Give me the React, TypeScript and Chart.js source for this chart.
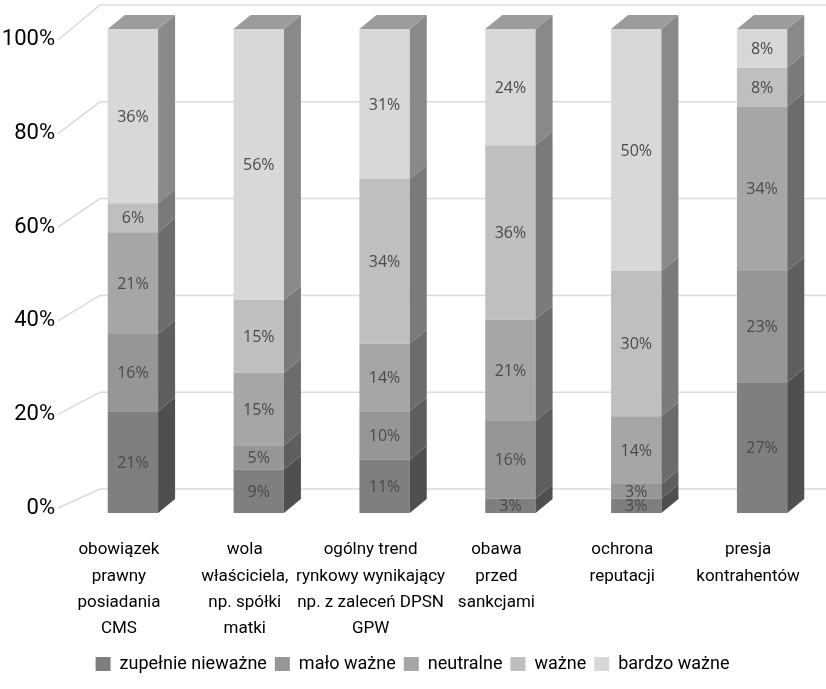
import React, { useEffect, useRef } from "react";
import { Chart, registerables } from "chart.js";

Chart.register(...registerables);

const categories: string[][] = [
  ["obowiązek", "prawny", "posiadania", "CMS"],
  ["wola", "właściciela,", "np. spółki", "matki"],
  ["ogólny trend", "rynkowy wynikający", "np. z zaleceń DPSN", "GPW"],
  ["obawa", "przed", "sankcjami"],
  ["ochrona", "reputacji"],
  ["presja", "kontrahentów"],
];

const seriesNames = ["zupełnie nieważne", "mało ważne", "neutralne", "ważne", "bardzo ważne"];
const zupelnieNiewazne = [21, 9, 11, 3, 3, 27];
const maloWazne = [16, 5, 10, 16, 3, 23];
const neutralne = [21, 15, 14, 21, 14, 34];
const wazne = [6, 15, 34, 36, 30, 8];
const bardzoWazne = [36, 56, 31, 24, 50, 8];
const seriesValues = [zupelnieNiewazne, maloWazne, neutralne, wazne, bardzoWazne];

const yTicks = [0, 20, 40, 60, 80, 100];

const frontColors = ["#7f7f7f", "#969696", "#a6a6a6", "#bfbfbf", "#d8d8d8"];
const sideColors = ["#4f4f4f", "#5e5e5e", "#6c6c6c", "#7a7a7a", "#898989"];
const topColor = "#9c9c9c";

const FONT = "Roboto, 'DejaVu Sans Condensed', sans-serif";
const DEPTH_X = 17;
const DEPTH_Y = 14;
const WALL_Y = 24;
const PAD_BOTTOM = 6;

const threeD = {
  id: "threeD",
  beforeDatasetsDraw(chart: any) {
    const { ctx, chartArea } = chart;
    const y = chart.scales.y;
    const yl = chart.scales.yl;
    const backLeft = chartArea.left + 30;
    const frontLeft = chartArea.left - 12;
    ctx.save();
    ctx.strokeStyle = "#dadada";
    ctx.lineWidth = 1.5;
    for (const v of yTicks) {
      const by = y.getPixelForValue(v) - WALL_Y;
      const fy = yl.getPixelForValue(v);
      ctx.beginPath();
      ctx.moveTo(frontLeft, fy);
      ctx.lineTo(backLeft, by);
      ctx.lineTo(chart.width, by);
      ctx.stroke();
    }
    ctx.restore();
  },
  afterDatasetsDraw(chart: any) {
    const { ctx } = chart;
    const n = chart.data.datasets.length;
    ctx.save();
    for (let d = 0; d < n; d++) {
      const meta = chart.getDatasetMeta(d);
      meta.data.forEach((bar: any) => {
        const { x, y, base, width } = bar.getProps(["x", "y", "base", "width"], true);
        const right = x + width / 2;
        const left = x - width / 2;
        ctx.fillStyle = sideColors[d];
        ctx.beginPath();
        ctx.moveTo(right, y);
        ctx.lineTo(right + DEPTH_X, y - DEPTH_Y);
        ctx.lineTo(right + DEPTH_X, base - DEPTH_Y);
        ctx.lineTo(right, base);
        ctx.closePath();
        ctx.fill();
        if (d === n - 1) {
          ctx.fillStyle = topColor;
          ctx.beginPath();
          ctx.moveTo(left, y);
          ctx.lineTo(left + DEPTH_X, y - DEPTH_Y);
          ctx.lineTo(right + DEPTH_X, y - DEPTH_Y);
          ctx.lineTo(right, y);
          ctx.closePath();
          ctx.fill();
        }
      });
    }
    // data labels
    ctx.fillStyle = "#4a4a4a";
    ctx.font = "16px 'Open Sans', sans-serif";
    ctx.textAlign = "center";
    ctx.textBaseline = "middle";
    for (let d = 0; d < n; d++) {
      const meta = chart.getDatasetMeta(d);
      const vals = chart.data.datasets[d].data;
      meta.data.forEach((bar: any, i: number) => {
        const { x, y, base } = bar.getProps(["x", "y", "base"], true);
        ctx.fillText(vals[i] + "%", x, (y + base) / 2 + 1);
      });
    }
    ctx.restore();
  },
};

export default function App() {
  const ref = useRef<HTMLCanvasElement>(null);
  useEffect(() => {
    if (!ref.current) return;
    const chart = new Chart(ref.current, {
      type: "bar",
      data: {
        labels: categories as any,
        datasets: seriesNames.map((name, i) => ({
          label: name,
          data: seriesValues[i],
          backgroundColor: frontColors[i],
          borderWidth: 0,
          barPercentage: 0.8,
          categoryPercentage: 0.5,
        })),
      },
      options: {
        responsive: false,
        animation: false,
        layout: { padding: { top: 29, right: 1, left: 0, bottom: PAD_BOTTOM } },
        plugins: {
          tooltip: { enabled: false },
          legend: {
            position: "bottom",
            labels: {
              boxWidth: 15,
              boxHeight: 14,
              padding: 8,
              color: "#000",
              font: { family: FONT, size: 18 },
            },
          },
        },
        scales: {
          x: {
            stacked: true,
            grid: { display: false },
            border: { display: false },
            ticks: {
              color: "#000",
              font: { family: FONT, size: 17, lineHeight: 1.55 },
              padding: 16,
              labelOffset: -14,
              maxRotation: 0,
              autoSkip: false,
            },
            afterFit(scale: any) {
              const lh = scale.chart.legend ? scale.chart.legend.height : 40;
              scale.height = 689 - 513 - lh - PAD_BOTTOM;
              scale.paddingLeft = 0;
              scale.paddingRight = 0;
            },
          },
          y: {
            stacked: true,
            min: 0,
            max: 100,
            display: false,
          },
          yl: {
            position: "left",
            min: -1.068,
            max: 102.35,
            grid: { display: false },
            border: { display: false },
            afterBuildTicks(scale: any) {
              scale.ticks = yTicks.map((v) => ({ value: v }));
            },
            afterFit(scale: any) {
              scale.width = 70;
              scale.paddingTop = 0;
              scale.paddingBottom = 0;
            },
            ticks: {
              color: "#000",
              padding: 7,
              font: { family: FONT, size: 22 },
              callback: (v: any) => v + "%",
            },
          },
        },
      },
      plugins: [threeD],
    });
    return () => chart.destroy();
  }, []);
  return (
    <div style={{ position: "fixed", left: 0, top: 0, width: 826, height: 689, background: "#fff" }}>
      <canvas ref={ref} width={826} height={689} style={{ display: "block" }} />
    </div>
  );
}
